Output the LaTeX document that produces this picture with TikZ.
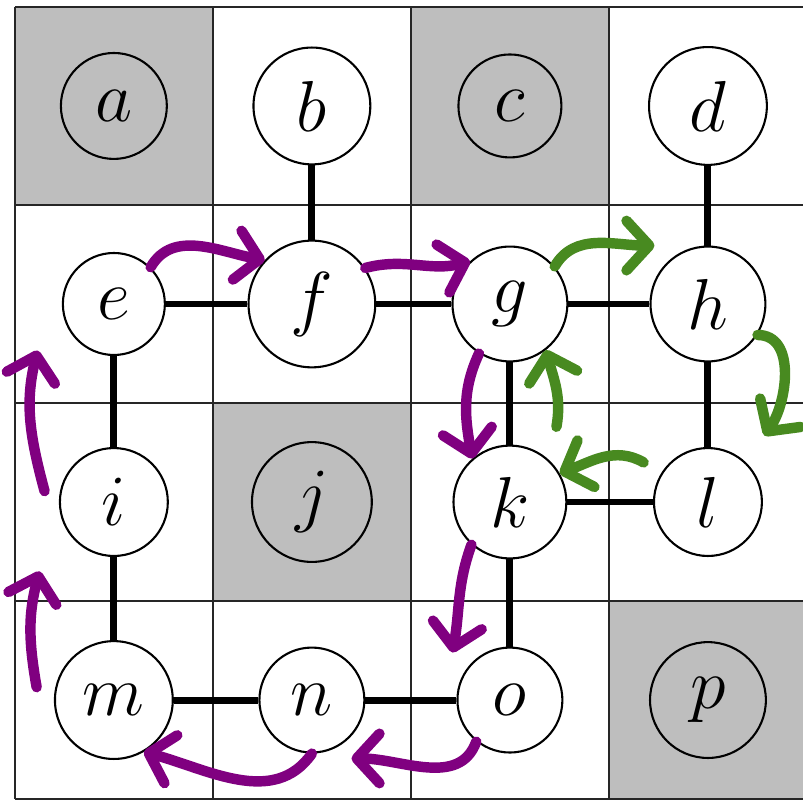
\documentclass[tikz,border=0pt]{standalone}
\usepackage{xcolor}
\usepackage{tikz}
\usetikzlibrary{arrows.meta,positioning}
\definecolor{cellgray}{RGB}{190,190,190}
\definecolor{pathpurple}{RGB}{128,0,128}
\definecolor{pathgreen}{RGB}{72,138,32}

\begin{document}
\begin{tikzpicture}[
    vertex/.style={draw, circle, fill=white, line width=0.6pt, minimum size=1.1cm, inner sep=0pt, font=\fontsize{20}{24}\selectfont},
    blocked/.style={vertex, fill=cellgray},
    link/.style={line width=2pt},
    walk/.style={line width=3pt, line cap=round, -{Straight Barb[length=2.3mm,width=5mm,round]}},
]
    \useasboundingbox (-0.15,0.07) rectangle (7.96,-8.0);

    % Celdas bloqueadas y cuadrícula
    \fill[cellgray] (0,0) rectangle (2,-2);
    \fill[cellgray] (4,0) rectangle (6,-2);
    \fill[cellgray] (2,-4) rectangle (4,-6);
    \fill[cellgray] (6,-6) rectangle (8,-8);
    \draw[line width=0.5pt, black!85] (0,-8) grid[step=2] (8,0);

    % Nodos
    \node[blocked, minimum size=1.07cm] (a) at (1,-1) {$a$};
    \node[vertex, minimum size=1.18cm] (b) at (3,-1) {$b$};
    \node[blocked, minimum size=1.04cm] (c) at (5,-1) {$c$};
    \node[vertex, minimum size=1.19cm] (d) at (7,-1) {$d$};
    \node[vertex, minimum size=1.03cm] (e) at (1,-3) {$e$};
    \node[vertex, minimum size=1.28cm] (f) at (3,-3) {$f$};
    \node[vertex, minimum size=1.16cm] (g) at (5,-3) {$g$};
    \node[vertex, minimum size=1.16cm] (h) at (7,-3) {$h$};
    \node[vertex, minimum size=1.09cm] (i) at (1,-5) {$i$};
    \node[blocked, minimum size=1.21cm] (j) at (3,-5) {$j$};
    \node[vertex, minimum size=1.14cm] (k) at (5,-5) {$k$};
    \node[vertex, minimum size=1.09cm] (l) at (7,-5) {$l$};
    \node[vertex, minimum size=1.19cm] (m) at (1,-7) {$m$};
    \node[vertex, minimum size=1.06cm] (n) at (3,-7) {$n$};
    \node[vertex, minimum size=1.06cm] (o) at (5,-7) {$o$};
    \node[blocked, minimum size=1.17cm] (p) at (7,-7) {$p$};

    % Aristas
    \draw[link] (b) -- (f);
    \draw[link] (d) -- (h);
    \draw[link] (e) -- (f);
    \draw[link] (f) -- (g);
    \draw[link] (g) -- (h);
    \draw[link] (e) -- (i);
    \draw[link] (g) -- (k);
    \draw[link] (h) -- (l);
    \draw[link] (k) -- (l);
    \draw[link] (i) -- (m);
    \draw[link] (k) -- (o);
    \draw[link] (m) -- (n);
    \draw[link] (n) -- (o);

    % Recorrido morado
    \draw[walk, pathpurple] (e.45) to[out=60, in=170] (f.137);
    \draw[walk, pathpurple] (f.34) to[out=15, in=195] (g.133);
    \draw[walk, pathpurple] (g.238) to[out=245, in=100] (k.131);
    \draw[walk, pathpurple] (k.228) to[out=250, in=80] ([shift={(-0.58,0.48)}]o.center);
    \draw[walk, pathpurple] (o.231) to[out=250, in=0] ([shift={(0.40,-0.59)}]n.center);
    \draw[walk, pathpurple] (n.south) to[out=235, in=-15] (m.-60);
    \draw[walk, pathpurple] ([shift={(-0.78,0.13)}]m.center) to[out=100, in=255] ([shift={(-0.75,-0.70)}]i.center);
    \draw[walk, pathpurple] ([shift={(-0.70,0.11)}]i.center) to[out=105, in=256] ([shift={(-0.77,-0.47)}]e.center);

    % Recorrido verde
    \draw[walk, pathgreen] (g.40) to[out=60, in=180] ([shift={(-0.54,0.59)}]h.center);
    \draw[walk, pathgreen] (h.-32) to[out=0, in=55] ([shift={(0.57,0.67)}]l.center);
    \draw[walk, pathgreen] ([shift={(-0.65,0.40)}]l.center) to[out=150, in=20] (k.30);
    \draw[walk, pathgreen] ([shift={(0.47,0.76)}]k.center) to[out=80, in=-75] (g.-52);
\end{tikzpicture}
\end{document}
